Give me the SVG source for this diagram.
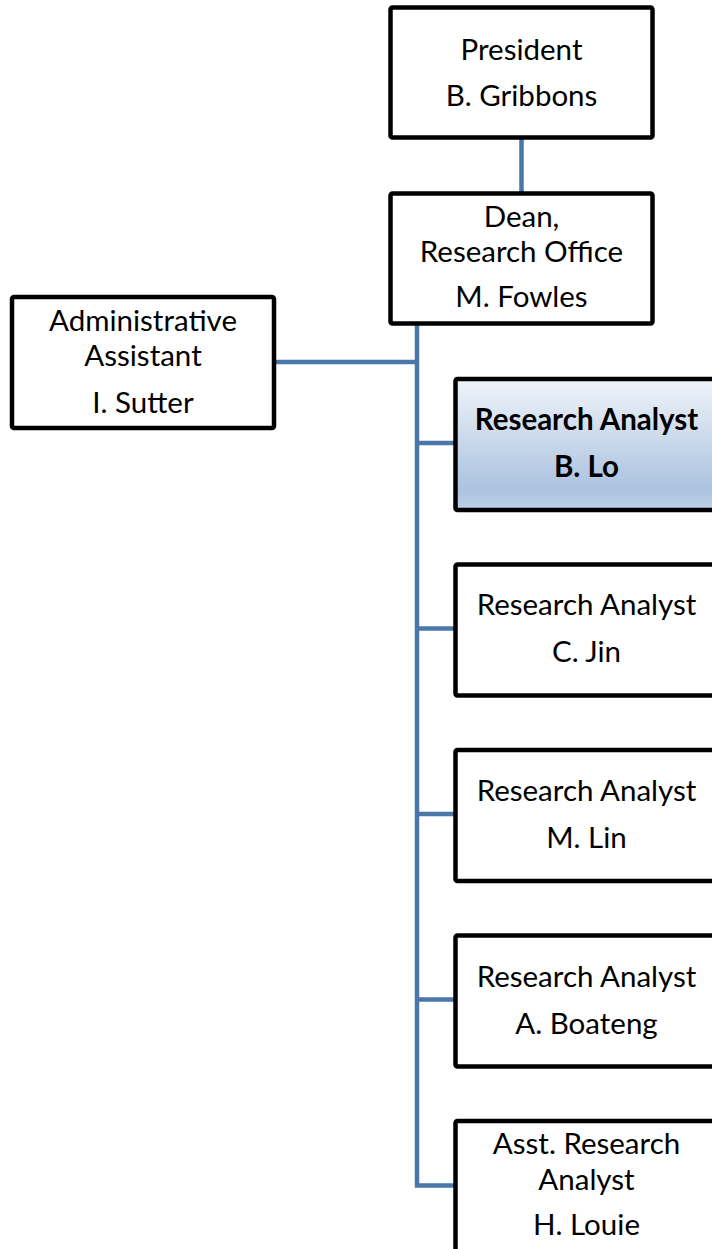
<svg xmlns="http://www.w3.org/2000/svg" width="712" height="1249" viewBox="0 0 712 1249">
<style>
.box{fill:#fff;stroke:#000;stroke-width:4.5}
.hl{fill:url(#g);stroke:#000;stroke-width:4.5}
text{font-family:Lato,"Open Sans",sans-serif;font-size:29.5px;fill:#000;text-anchor:middle}
.b{font-weight:bold}
.c{fill:none;stroke:#4a76aa;stroke-width:4.5}
</style>
<defs>
<linearGradient id="g" x1="0" y1="0" x2="0" y2="1">
<stop offset="0" stop-color="#f0f4fa"/>
<stop offset="0.85" stop-color="#abc2df"/>
<stop offset="1" stop-color="#bfd0e8"/>
</linearGradient>
</defs>
<rect width="712" height="1249" fill="#fff"/>
<g id="connectors">
<line class="c" x1="521.5" y1="137" x2="521.5" y2="195"/>
<path class="c" d="M417 323 V1185.5 H457"/>
<line class="c" x1="274" y1="362" x2="417" y2="362"/>
<line class="c" x1="417" y1="443" x2="457" y2="443"/>
<line class="c" x1="417" y1="628.5" x2="457" y2="628.5"/>
<line class="c" x1="417" y1="814" x2="457" y2="814"/>
<line class="c" x1="417" y1="999.5" x2="457" y2="999.5"/>
</g>
<g id="president">
<rect class="box" x="390.5" y="7.5" width="262" height="130" rx="2"/>
<text x="521.5" y="60">President</text>
<text x="521.5" y="106">B. Gribbons</text>
</g>
<g id="dean">
<rect class="box" x="390.5" y="193.5" width="262" height="130" rx="2"/>
<text x="521.5" y="227">Dean,</text>
<text x="521.5" y="262">Research Office</text>
<text x="521.5" y="307">M. Fowles</text>
</g>
<g id="admin">
<rect class="box" x="12" y="297" width="262" height="131" rx="2"/>
<text x="143" y="331">Administrative</text>
<text x="143" y="366">Assistant</text>
<text x="143" y="413">I. Sutter</text>
</g>
<g id="lo">
<rect class="hl" x="455.5" y="379" width="262" height="131" rx="2"/>
<text class="b" x="586.5" y="430">Research Analyst</text>
<text class="b" x="586.5" y="477">B. Lo</text>
</g>
<g id="jin">
<rect class="box" x="455.5" y="564.5" width="262" height="131" rx="2"/>
<text x="586.5" y="615">Research Analyst</text>
<text x="586.5" y="662">C. Jin</text>
</g>
<g id="lin">
<rect class="box" x="455.5" y="750" width="262" height="131" rx="2"/>
<text x="586.5" y="801">Research Analyst</text>
<text x="586.5" y="848">M. Lin</text>
</g>
<g id="boateng">
<rect class="box" x="455.5" y="935.5" width="262" height="131" rx="2"/>
<text x="586.5" y="986.5">Research Analyst</text>
<text x="586.5" y="1033.5">A. Boateng</text>
</g>
<g id="louie">
<rect class="box" x="455.5" y="1121" width="262" height="131" rx="2"/>
<text x="586.5" y="1154">Asst. Research</text>
<text x="586.5" y="1190">Analyst</text>
<text x="586.5" y="1235">H. Louie</text>
</g>
</svg>
